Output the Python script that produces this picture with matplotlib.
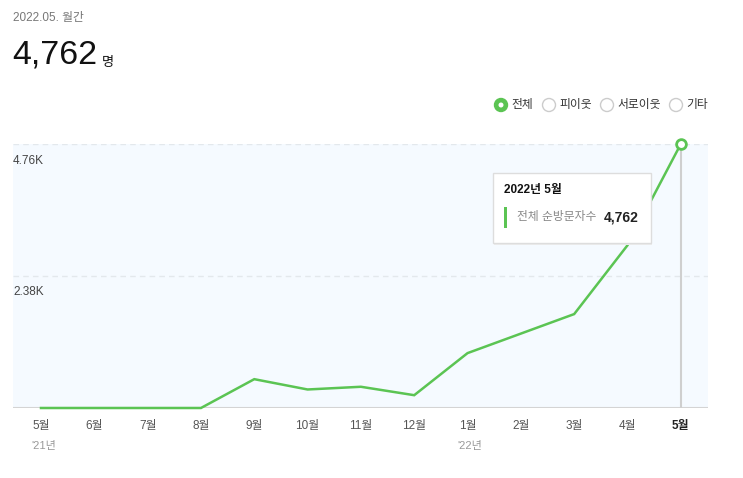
import matplotlib
matplotlib.use("Agg")
import matplotlib.pyplot as plt
from matplotlib.patches import Circle, Rectangle

plt.rcParams['font.family'] = ['Liberation Sans', 'Noto Sans CJK KR', 'DejaVu Sans']

months = ["5월", "6월", "7월", "8월", "9월", "10월", "11월", "12월", "1월", "2월", "3월", "4월", "5월"]
years = {0: "'21년", 8: "'22년"}
visitors = [0, 0, 0, 0, 520, 334, 383, 231, 990, 1342, 1694, 2935, 4762]
ytick_vals = [2380, 4760]
ytick_labels = ["2.38K", "4.76K"]
legend_items = ["전체", "피이웃", "서로이웃", "기타"]

W, H = 743, 478
fig = plt.figure(figsize=(W / 100, H / 100), dpi=100)

def fx(px):
    return px / W

def fy(py):
    return 1 - py / H

green = "#5bc453"
# axes
ax_left, ax_right, ax_top, ax_bot = 13, 708, 144, 408
ax = fig.add_axes([fx(ax_left), fy(ax_bot), fx(ax_right - ax_left), (ax_bot - ax_top) / H])
ax.set_facecolor("#f5faff")
ax.set_xlim(-0.525, 12.51)
ax.set_ylim(0, 4762)
for s in ax.spines.values():
    s.set_visible(False)
ax.set_xticks([])
ax.set_yticks([])

for v, lab in zip(ytick_vals, ytick_labels):
    ax.axhline(v, color="#e3e8ec", lw=1, ls=(0, (4, 3)), zorder=1)
    ax.annotate(lab, xy=(0, v), xycoords=("axes fraction", "data"),
                xytext=(0, -7.5), textcoords="offset points",
                ha="left", va="top", fontsize=8.5, color="#444444")

ax.axhline(0, color="#d4d4d4", lw=1.5, zorder=2)
x = list(range(len(visitors)))
ax.vlines(x[-1], 0, visitors[-1], color="#cfcfcf", lw=1.5, zorder=2)
ax.plot(x, visitors, color=green, lw=1.8, zorder=3, solid_joinstyle="miter", clip_on=False)
ax.plot([x[-1]], [visitors[-1]], marker="o", ms=7, mfc="white", mec=green, mew=2, zorder=4, clip_on=False)

# x tick labels
for i, m in enumerate(months):
    last = i == len(months) - 1
    ax.annotate(m, xy=(i, 0), xycoords=("data", "axes fraction"),
                xytext=(0, -13), textcoords="offset points",
                ha="center", va="center", fontsize=8.5,
                color="#222222" if last else "#555555",
                fontweight="bold" if last else "normal")
for i, yl in years.items():
    ax.annotate(yl, xy=(i, 0), xycoords=("data", "axes fraction"),
                xytext=(-7, -27), textcoords="offset points",
                ha="left", va="center", fontsize=8, color="#999999")

# header
fig.text(fx(13), fy(18), "2022.05. 월간", fontsize=8.5, color="#777777", ha="left", va="center")
fig.text(fx(12), fy(55), "4,762", fontsize=24.5, color="#111111", ha="left", va="center")
fig.text(fx(102), fy(63), "명", fontsize=9.5, color="#111111", ha="left", va="center")

# legend
leg_x = [501, 549, 607, 676]
for i, (lx, lab) in enumerate(zip(leg_x, legend_items)):
    if i == 0:
        c = Circle((lx, H - 105), radius=6.5, transform=None, facecolor=green, edgecolor=green)
    else:
        c = Circle((lx, H - 105), radius=6.5, transform=None, facecolor="white", edgecolor="#cccccc", lw=1)
    fig.patches.append(c)
    if i == 0:
        c2 = Circle((lx, H - 105), radius=2.5, transform=None, facecolor="white", edgecolor="none")
        fig.patches.append(c2)
    fig.text(fx(lx + 10), fy(105), lab, fontsize=8.5, color="#333333", ha="left", va="center")

# tooltip
tb_l, tb_t, tb_r, tb_b = 493, 173, 651, 243
shadow = Rectangle((tb_l + 1, H - tb_b - 2), tb_r - tb_l, tb_b - tb_t, transform=None,
                   facecolor="#ececec", edgecolor="none", zorder=5)
box = Rectangle((tb_l, H - tb_b), tb_r - tb_l, tb_b - tb_t, transform=None,
                facecolor="white", edgecolor="#dddddd", lw=1, zorder=6)
fig.patches.extend([shadow, box])
bar = Rectangle((504, H - 228), 3, 21, transform=None, facecolor=green, edgecolor="none", zorder=7)
fig.patches.append(bar)
fig.text(fx(504), fy(190), "2022년 5월", fontsize=8.5, color="#111111", fontweight="bold",
         ha="left", va="center", zorder=8)
fig.text(fx(517), fy(217), "전체 순방문자수", fontsize=8.5, color="#888888",
         ha="left", va="center", zorder=8)
fig.text(fx(639), fy(217), "4,762", fontsize=10, color="#222222", fontweight="bold",
         ha="right", va="center", zorder=8)

fig.savefig("out.png", dpi=100, facecolor="white")
